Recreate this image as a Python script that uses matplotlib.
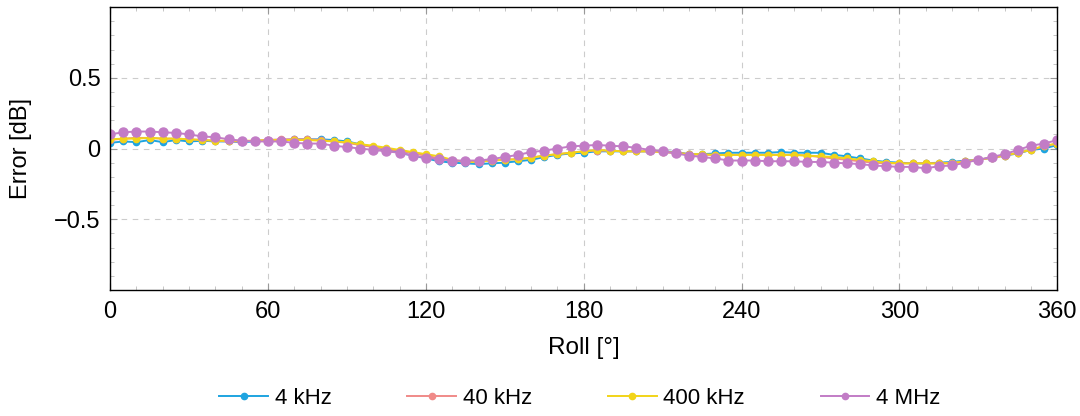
import matplotlib

matplotlib.use("Agg")
import matplotlib.pyplot as plt
import numpy as np
from matplotlib.ticker import MultipleLocator

plt.rcParams["font.family"] = ["Liberation Sans", "DejaVu Sans"]

roll = np.arange(0, 361, 5)

err_4k = [0.04, 0.05, 0.045, 0.06, 0.045, 0.06, 0.05, 0.055, 0.05, 0.05,
          0.045, 0.05, 0.06, 0.06, 0.065, 0.065, 0.065, 0.06, 0.05, 0.03,
          0.01, -0.01, -0.03, -0.05, -0.07, -0.09, -0.1, -0.105, -0.11, -0.105,
          -0.1, -0.09, -0.08, -0.06, -0.045, -0.035, -0.03, -0.02, -0.02, -0.02,
          -0.02, -0.02, -0.02, -0.025, -0.04, -0.04, -0.035, -0.03, -0.03, -0.03,
          -0.03, -0.025, -0.03, -0.03, -0.03, -0.045, -0.055, -0.07, -0.085, -0.095,
          -0.1, -0.105, -0.105, -0.1, -0.095, -0.085, -0.08, -0.065, -0.05, -0.035,
          -0.01, 0.0, 0.025]
err_40k = [0.06, 0.07, 0.075, 0.075, 0.07, 0.07, 0.065, 0.06, 0.055, 0.05,
           0.05, 0.055, 0.06, 0.065, 0.065, 0.065, 0.06, 0.05, 0.04, 0.025,
           0.01, -0.005, -0.015, -0.035, -0.05, -0.07, -0.085, -0.09, -0.09, -0.085,
           -0.08, -0.075, -0.065, -0.05, -0.04, -0.03, -0.02, -0.015, -0.015, -0.02,
           -0.02, -0.02, -0.025, -0.03, -0.04, -0.045, -0.045, -0.045, -0.045, -0.045,
           -0.045, -0.045, -0.045, -0.05, -0.06, -0.07, -0.08, -0.09, -0.1, -0.105,
           -0.105, -0.105, -0.105, -0.105, -0.1, -0.09, -0.08, -0.065, -0.05, -0.03,
           -0.01, 0.015, 0.035]
err_400k = [0.065, 0.07, 0.07, 0.075, 0.07, 0.07, 0.065, 0.06, 0.055, 0.055,
            0.055, 0.055, 0.06, 0.06, 0.06, 0.06, 0.055, 0.05, 0.045, 0.03,
            0.02, 0.005, -0.01, -0.025, -0.04, -0.055, -0.08, -0.095, -0.095, -0.085,
            -0.08, -0.075, -0.065, -0.05, -0.04, -0.03, -0.02, -0.01, -0.015, -0.02,
            -0.02, -0.02, -0.025, -0.03, -0.04, -0.04, -0.045, -0.045, -0.045, -0.045,
            -0.045, -0.045, -0.045, -0.05, -0.055, -0.06, -0.07, -0.08, -0.09, -0.1,
            -0.105, -0.105, -0.105, -0.105, -0.105, -0.09, -0.08, -0.065, -0.05, -0.03,
            -0.01, 0.02, 0.035]
err_4M = [0.1, 0.115, 0.12, 0.12, 0.115, 0.11, 0.1, 0.085, 0.08, 0.065,
          0.055, 0.05, 0.05, 0.05, 0.04, 0.035, 0.035, 0.02, 0.01, 0.0,
          -0.01, -0.02, -0.03, -0.05, -0.065, -0.075, -0.085, -0.085, -0.085, -0.075,
          -0.06, -0.045, -0.025, -0.015, 0.0, 0.015, 0.02, 0.025, 0.02, 0.015,
          0.005, -0.01, -0.02, -0.035, -0.05, -0.06, -0.07, -0.085, -0.085, -0.085,
          -0.09, -0.09, -0.09, -0.095, -0.095, -0.1, -0.105, -0.11, -0.12, -0.125,
          -0.13, -0.13, -0.14, -0.125, -0.12, -0.1, -0.08, -0.06, -0.04, -0.01,
          0.02, 0.035, 0.06]

labels = ["4 kHz", "40 kHz", "400 kHz", "4 MHz"]
series = [err_4k, err_40k, err_400k, err_4M]
colors = ["#1ea4e0", "#f08a88", "#f2d418", "#c27cc6"]
marker_sizes = [4.5, 4.5, 4.5, 6.5]

fig = plt.figure(figsize=(10.8, 4.16), dpi=100)
ax = fig.add_axes([0.102, 0.303, 0.877, 0.68])

for vals, lab, c, ms in zip(series, labels, colors, marker_sizes):
    ax.plot(roll, vals, color=c, lw=1.4, marker="o", ms=ms, label=lab)

ax.set_xlim(0, 360)
ax.set_ylim(-1, 1)
ax.set_xticks(np.arange(0, 361, 60))
ax.set_yticks([-0.5, 0, 0.5])
ax.set_yticklabels(["\u22120.5", "0", "0.5"])
ax.xaxis.set_minor_locator(MultipleLocator(10))
ax.yaxis.set_minor_locator(MultipleLocator(0.1))
ax.tick_params(which="both", direction="in", top=True, right=True, labelsize=17)
ax.tick_params(which="major", length=5, color="#999999")
ax.tick_params(which="minor", length=3, color="#bbbbbb")
ax.tick_params(axis="x", pad=8)
ax.tick_params(axis="y", pad=7)
ax.grid(True, which="major", linestyle=(0, (5, 5)), color="#cccccc", lw=0.8)
for s in ax.spines.values():
    s.set_linewidth(1.0)

ax.set_xlabel("Roll [°]", fontsize=17.5)
ax.set_ylabel("Error [dB]", fontsize=17)
ax.xaxis.set_label_coords(0.5, -0.165)
ax.yaxis.set_label_coords(-0.082, 0.5)

leg = fig.legend(loc="center", bbox_to_anchor=(0.537, 0.043), ncol=4, frameon=False,
                 fontsize=16, columnspacing=3.4, handlelength=2.2, handletextpad=0.3)
for h in leg.legend_handles:
    h.set_markersize(4.5)

fig.savefig("out.png", dpi=100)
